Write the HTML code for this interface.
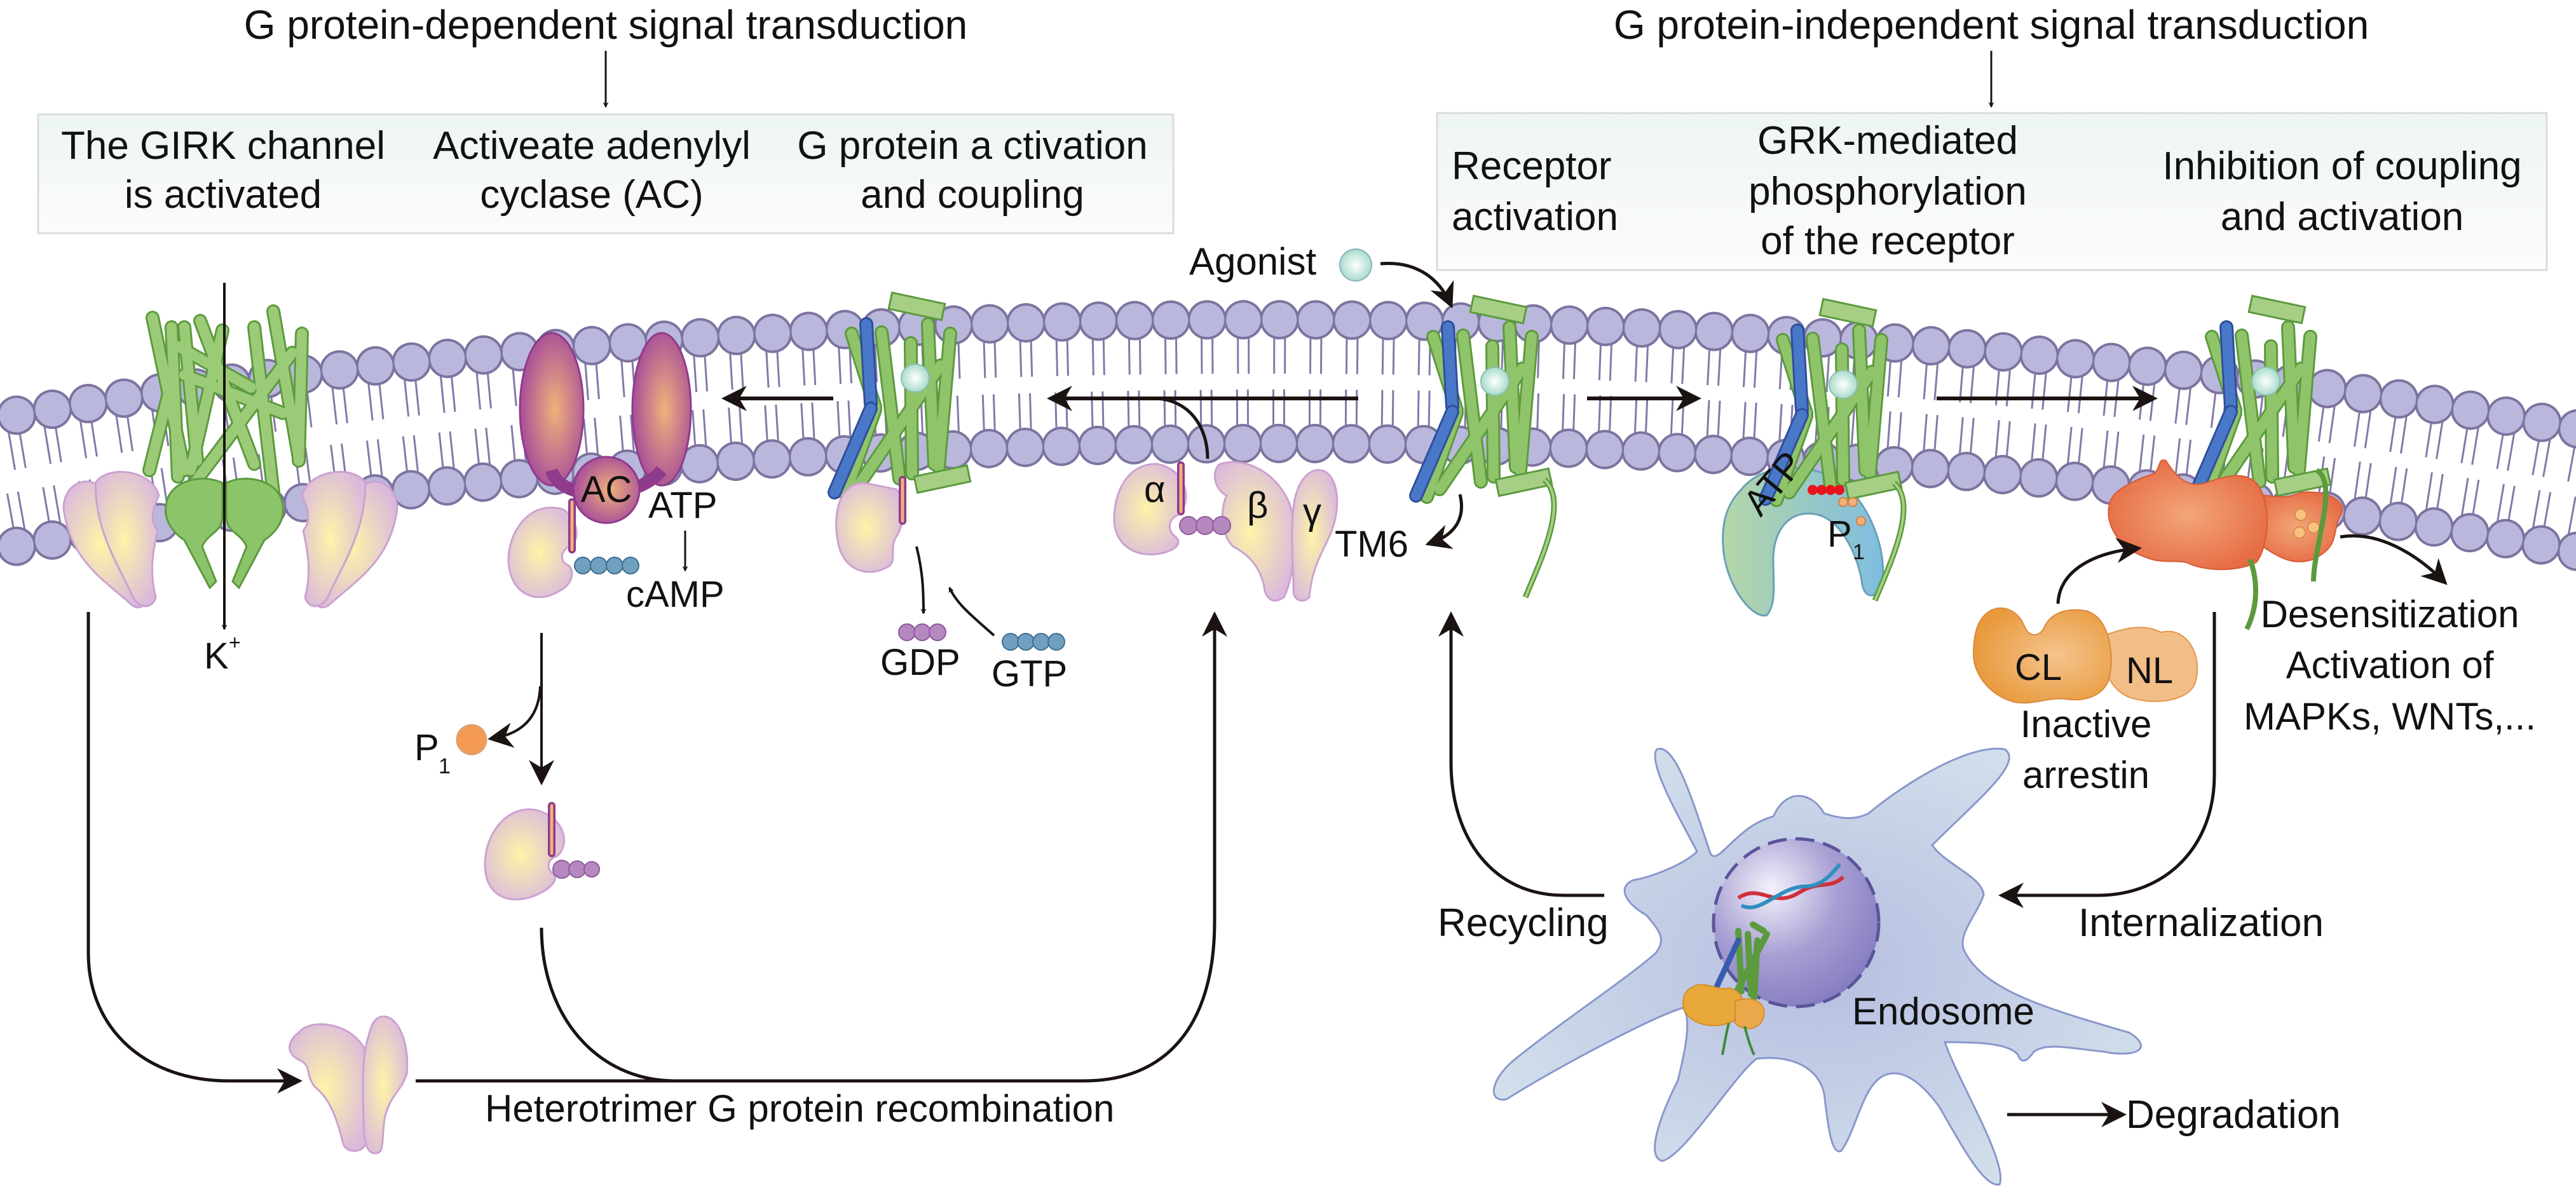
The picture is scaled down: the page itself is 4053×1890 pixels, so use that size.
<!DOCTYPE html>
<html><head><meta charset="utf-8">
<style>
html,body{margin:0;padding:0;background:#fff;}
svg{display:block;}
text{font-family:"Liberation Sans",Arial,sans-serif;fill:#111;}
</style></head>
<body>
<svg width="4053" height="1890" viewBox="0 0 4053 1890" xmlns="http://www.w3.org/2000/svg">
<defs>
  <marker id="ah" viewBox="0 0 20 20" refX="16" refY="10" markerWidth="9" markerHeight="9" orient="auto" markerUnits="userSpaceOnUse">
    <path d="M0,0 L20,10 L0,20 L6,10 Z" fill="#1a1311"/>
  </marker>
  <marker id="ahb" viewBox="0 0 20 20" refX="16" refY="10" markerWidth="40" markerHeight="40" orient="auto" markerUnits="userSpaceOnUse">
    <path d="M0,0 L20,10 L0,20 L6,10 Z" fill="#1a1311"/>
  </marker>
  <linearGradient id="boxg" x1="0" y1="0" x2="0" y2="1">
    <stop offset="0" stop-color="#edf5f2"/><stop offset="1" stop-color="#fcfcfa"/>
  </linearGradient>
  <radialGradient id="gp" cx="0.45" cy="0.5" r="0.6">
    <stop offset="0" stop-color="#fdf4a8"/><stop offset="1" stop-color="#dab9dc"/>
  </radialGradient>
  <radialGradient id="acg" cx="0.55" cy="0.5" r="0.6">
    <stop offset="0" stop-color="#f0b27a"/><stop offset="1" stop-color="#a0449c"/>
  </radialGradient>
  <radialGradient id="ago" cx="0.5" cy="0.5" r="0.5">
    <stop offset="0" stop-color="#ffffff"/><stop offset="1" stop-color="#a8dccb"/>
  </radialGradient>
  <radialGradient id="org" cx="0.5" cy="0.5" r="0.6">
    <stop offset="0" stop-color="#f2a67a"/><stop offset="1" stop-color="#e5673f"/>
  </radialGradient>
  <radialGradient id="arr" cx="0.6" cy="0.5" r="0.6">
    <stop offset="0" stop-color="#f5c48e"/><stop offset="1" stop-color="#e89a3c"/>
  </radialGradient>
  <linearGradient id="grk" x1="0" y1="0" x2="1" y2="0">
    <stop offset="0" stop-color="#b4d6a8"/><stop offset="1" stop-color="#7fbde0"/>
  </linearGradient>
  <radialGradient id="cellg" cx="0.5" cy="0.5" r="0.6">
    <stop offset="0" stop-color="#b6bde0"/><stop offset="1" stop-color="#d3e2ec"/>
  </radialGradient>
  <radialGradient id="nuc" cx="0.35" cy="0.3" r="0.8">
    <stop offset="0" stop-color="#f4f2fb"/><stop offset="0.5" stop-color="#a79fd3"/><stop offset="1" stop-color="#8078bd"/>
  </radialGradient>
  <g id="rcpt">
    <g stroke-linecap="round">
      <g stroke="#5c9a3e" stroke-width="22">
        <line x1="-75" y1="-110" x2="-38" y2="5"/>
        <line x1="-28" y1="-112" x2="0" y2="118"/>
        <line x1="18" y1="-95" x2="20" y2="110"/>
        <line x1="45" y1="-125" x2="55" y2="95"/>
        <line x1="80" y1="-110" x2="62" y2="100"/>
        <line x1="65" y1="-60" x2="-65" y2="130"/>
        <line x1="-38" y1="10" x2="-85" y2="142"/>
      </g>
      <g stroke="#90c46b" stroke-width="16">
        <line x1="-75" y1="-110" x2="-38" y2="5"/>
        <line x1="-28" y1="-112" x2="0" y2="118"/>
        <line x1="18" y1="-95" x2="20" y2="110"/>
        <line x1="45" y1="-125" x2="55" y2="95"/>
        <line x1="80" y1="-110" x2="62" y2="100"/>
        <line x1="65" y1="-60" x2="-65" y2="130"/>
        <line x1="-38" y1="10" x2="-85" y2="142"/>
      </g>
      <line x1="-52" y1="-125" x2="-45" y2="0" stroke="#2f4f9a" stroke-width="22"/>
      <line x1="-52" y1="-125" x2="-45" y2="0" stroke="#4a78c8" stroke-width="16"/>
      <line x1="-45" y1="8" x2="-102" y2="140" stroke="#2f4f9a" stroke-width="22"/>
      <line x1="-45" y1="8" x2="-102" y2="140" stroke="#4a78c8" stroke-width="16"/>
    </g>
    <g stroke="#5c9a3e" stroke-width="3" fill="#a6cf85">
      <rect x="-15" y="-166" width="85" height="26" transform="rotate(12 27 -153)"/>
      <rect x="25" y="106" width="85" height="26" transform="rotate(-12 67 119)"/>
    </g>
  </g>
  <g id="tail">
    <path d="M100,115 C140,150 90,250 70,300" fill="none" stroke="#5c9a3e" stroke-width="9"/>
    <path d="M100,115 C140,150 90,250 70,300" fill="none" stroke="#a6cf85" stroke-width="4"/>
  </g>
</defs>

<text x="953" y="61" font-size="64" text-anchor="middle">G protein-dependent signal transduction</text>
<text x="3133" y="61" font-size="64" text-anchor="middle">G protein-independent signal transduction</text>
<line x1="953" y1="80" x2="953" y2="168" stroke="#1a1311" stroke-width="3" marker-end="url(#ah)"/>
<line x1="3133" y1="80" x2="3133" y2="168" stroke="#1a1311" stroke-width="3" marker-end="url(#ah)"/>

<rect x="60" y="180" width="1786" height="187" fill="url(#boxg)" stroke="#d9ddd9" stroke-width="3"/>
<rect x="2261" y="178" width="1746" height="247" fill="url(#boxg)" stroke="#d9ddd9" stroke-width="3"/>
<g font-size="62" text-anchor="middle">
  <text x="351" y="250">The GIRK channel</text><text x="351" y="327">is activated</text>
  <text x="931" y="250">Activeate adenylyl</text><text x="931" y="327">cyclase (AC)</text>
  <text x="1530" y="250">G protein a ctivation</text><text x="1530" y="327">and coupling</text>
  <text x="2970" y="242">GRK-mediated</text><text x="2970" y="322">phosphorylation</text><text x="2970" y="400">of the receptor</text>
  <text x="3685" y="282">Inhibition of coupling</text><text x="3685" y="362">and activation</text>
</g>
<g font-size="62"><text x="2284" y="282">Receptor</text><text x="2284" y="362">activation</text></g>

<g fill="none" stroke-linecap="butt">
  <path d="M-30,713 C1200,497 2850,497 4083,730" stroke="#8279a8" stroke-width="70" stroke-dasharray="3 14 3 37" stroke-dashoffset="10"/>
  <path d="M-30,820 C1200,590 2850,590 4083,823" stroke="#8279a8" stroke-width="70" stroke-dasharray="3 14 3 37" stroke-dashoffset="10"/>
  <path d="M-30,766 C1200,543 2850,543 4083,776" stroke="#ffffff" stroke-width="6"/>
</g>
<g fill="none" stroke-linecap="round">
  <path d="M-30,663 C1200,447 2850,447 4083,680" stroke="#7d739f" stroke-width="62" stroke-dasharray="0 57"/>
  <path d="M-30,663 C1200,447 2850,447 4083,680" stroke="#b9b8dc" stroke-width="54" stroke-dasharray="0 57"/>
  <path d="M-30,870 C1200,640 2850,640 4083,873" stroke="#7d739f" stroke-width="62" stroke-dasharray="0 57"/>
  <path d="M-30,870 C1200,640 2850,640 4083,873" stroke="#b9b8dc" stroke-width="54" stroke-dasharray="0 57"/>
</g>

<g stroke-linecap="round">
  <g stroke="#5c9a3e" stroke-width="22">
    <line x1="240" y1="500" x2="290" y2="740"/><line x1="270" y1="515" x2="280" y2="750"/><line x1="290" y1="515" x2="310" y2="725"/>
    <line x1="315" y1="505" x2="400" y2="730"/><line x1="280" y1="545" x2="395" y2="610"/><line x1="290" y1="590" x2="445" y2="650"/>
    <line x1="400" y1="515" x2="430" y2="775"/><line x1="430" y1="490" x2="470" y2="720"/><line x1="475" y1="525" x2="470" y2="725"/>
    <line x1="460" y1="555" x2="295" y2="775"/><line x1="350" y1="520" x2="300" y2="740"/><line x1="235" y1="740" x2="265" y2="620"/>
  </g>
  <g stroke="#9ccb78" stroke-width="16">
    <line x1="240" y1="500" x2="290" y2="740"/><line x1="270" y1="515" x2="280" y2="750"/><line x1="290" y1="515" x2="310" y2="725"/>
    <line x1="315" y1="505" x2="400" y2="730"/><line x1="280" y1="545" x2="395" y2="610"/><line x1="290" y1="590" x2="445" y2="650"/>
    <line x1="400" y1="515" x2="430" y2="775"/><line x1="430" y1="490" x2="470" y2="720"/><line x1="475" y1="525" x2="470" y2="725"/>
    <line x1="460" y1="555" x2="295" y2="775"/><line x1="350" y1="520" x2="300" y2="740"/><line x1="235" y1="740" x2="265" y2="620"/>
  </g>
</g>
<g fill="#8cc46a" stroke="#5c9a3e" stroke-width="3">
  <path d="M350,760 C320,745 270,755 262,790 C255,820 275,840 290,850 L330,925 L340,915 L318,860 C330,835 350,840 350,810 Z"/>
  <path d="M356,760 C386,745 436,755 444,790 C451,820 431,840 416,850 L376,925 L366,915 L388,860 C376,835 356,840 356,810 Z"/>
</g>
<g fill="url(#gp)" stroke="#cba2d0" stroke-width="3">
  <path d="M100,800 C100,760 140,745 160,770 C190,800 200,860 230,920 C240,950 220,965 205,950 C160,910 110,880 100,800 Z"/>
  <path d="M150,760 C170,730 240,740 250,780 C240,800 235,820 248,835 C240,870 235,900 245,940 C240,960 215,960 205,930 C180,880 150,830 150,760 Z"/>
  <path d="M625,800 C625,760 585,745 565,770 C535,800 525,860 495,920 C485,950 505,965 520,950 C565,910 615,880 625,800 Z"/>
  <path d="M575,760 C555,730 485,740 475,780 C485,800 490,820 477,835 C485,870 490,900 480,940 C485,960 510,960 520,930 C545,880 575,830 575,760 Z"/>
</g>
<line x1="353" y1="445" x2="353" y2="990" stroke="#1a1311" stroke-width="4" marker-end="url(#ah)"/>
<text x="321" y="1052" font-size="58">K</text><text x="360" y="1022" font-size="32">+</text>

<ellipse cx="868" cy="644" rx="50" ry="120" fill="url(#acg)" stroke="#8e3b8c" stroke-width="3"/>
<ellipse cx="1041" cy="644" rx="46" ry="120" fill="url(#acg)" stroke="#8e3b8c" stroke-width="3"/>
<path d="M868,740 C880,790 1000,790 1041,740" fill="none" stroke="#8e3b8c" stroke-width="20"/>
<circle cx="954" cy="771" r="52" fill="url(#acg)" stroke="#8e3b8c" stroke-width="3"/>
<text x="954" y="790" font-size="58" text-anchor="middle">AC</text>
<text x="1020" y="815" font-size="58">ATP</text>
<line x1="1078" y1="835" x2="1078" y2="898" stroke="#1a1311" stroke-width="3" marker-end="url(#ah)"/>
<text x="985" y="955" font-size="58">cAMP</text>
<path d="M880,800 C830,790 800,840 800,880 C800,930 840,955 880,930 C900,920 905,900 895,890 C880,885 880,865 900,858 C915,845 905,805 880,800 Z" fill="url(#gp)" stroke="#cba2d0" stroke-width="3"/>
<line x1="900" y1="790" x2="900" y2="865" stroke="#8e3b8c" stroke-width="12" stroke-linecap="round"/>
<line x1="900" y1="790" x2="900" y2="865" stroke="#f0b27a" stroke-width="5" stroke-linecap="round"/>
<g fill="#6fa0c0" stroke="#3e6f8f" stroke-width="2"><circle cx="917" cy="890" r="13"/><circle cx="942" cy="890" r="13"/><circle cx="967" cy="890" r="13"/><circle cx="992" cy="890" r="13"/></g>

<use href="#rcpt" x="1415" y="635"/>
<circle cx="1440" cy="595" r="22" fill="url(#ago)" stroke="#8bbfb0" stroke-width="2"/>
<path d="M1360,760 C1315,760 1310,820 1320,860 C1330,900 1370,910 1400,890 C1410,880 1400,860 1410,845 C1420,830 1430,790 1410,770 Z" fill="url(#gp)" stroke="#cba2d0" stroke-width="3"/>
<line x1="1420" y1="755" x2="1420" y2="820" stroke="#8e3b8c" stroke-width="12" stroke-linecap="round"/>
<line x1="1420" y1="755" x2="1420" y2="820" stroke="#f0b27a" stroke-width="5" stroke-linecap="round"/>
<path d="M1442,860 C1452,900 1453,930 1453,965" fill="none" stroke="#1a1311" stroke-width="4" marker-end="url(#ah)"/>
<path d="M1564,1000 C1530,970 1505,950 1494,925" fill="none" stroke="#1a1311" stroke-width="4" marker-end="url(#ah)"/>
<g fill="#b588c0" stroke="#8e5b9c" stroke-width="2"><circle cx="1427" cy="995" r="13"/><circle cx="1451" cy="995" r="13"/><circle cx="1475" cy="995" r="13"/></g>
<g fill="#6fa0c0" stroke="#3e6f8f" stroke-width="2"><circle cx="1590" cy="1010" r="13"/><circle cx="1614" cy="1010" r="13"/><circle cx="1638" cy="1010" r="13"/><circle cx="1662" cy="1010" r="13"/></g>
<text x="1385" y="1062" font-size="58">GDP</text>
<text x="1560" y="1080" font-size="58">GTP</text>

<path d="M1820,730 C1770,730 1752,780 1753,820 C1755,860 1790,880 1830,870 C1850,865 1860,855 1850,845 C1835,835 1838,815 1855,810 C1875,790 1870,740 1820,730 Z" fill="url(#gp)" stroke="#cba2d0" stroke-width="3"/>
<path d="M1920,730 C1970,715 2030,760 2035,820 C2040,880 2030,920 2020,940 C2005,950 1995,945 1990,930 C1985,890 1960,870 1940,860 C1920,840 1920,800 1930,780 C1910,770 1905,740 1920,730 Z" fill="url(#gp)" stroke="#cba2d0" stroke-width="3"/>
<path d="M2070,740 C2100,735 2110,780 2100,820 C2090,860 2065,880 2060,940 C2050,950 2035,945 2035,930 C2035,880 2030,850 2035,800 C2038,770 2050,745 2070,740 Z" fill="url(#gp)" stroke="#cba2d0" stroke-width="3"/>
<line x1="1858" y1="732" x2="1858" y2="805" stroke="#8e3b8c" stroke-width="12" stroke-linecap="round"/>
<line x1="1858" y1="732" x2="1858" y2="805" stroke="#f0b27a" stroke-width="5" stroke-linecap="round"/>
<g fill="#b588c0" stroke="#8e5b9c" stroke-width="2"><circle cx="1870" cy="827" r="14"/><circle cx="1896" cy="827" r="14"/><circle cx="1922" cy="827" r="14"/></g>
<text x="1800" y="790" font-size="58">α</text>
<text x="1962" y="815" font-size="58">β</text>
<text x="2050" y="825" font-size="58">γ</text>
<text x="2100" y="876" font-size="58">TM6</text>

<line x1="1311" y1="627" x2="1143" y2="627" stroke="#1a1311" stroke-width="6" marker-end="url(#ahb)"/>
<line x1="2137" y1="627" x2="1655" y2="627" stroke="#1a1311" stroke-width="6" marker-end="url(#ahb)"/>
<path d="M1900,722 C1900,670 1870,630 1820,627" fill="none" stroke="#1a1311" stroke-width="5"/>

<text x="1871" y="432" font-size="60">Agonist</text>
<circle cx="2133" cy="417" r="25" fill="url(#ago)" stroke="#8bb0c0" stroke-width="2"/>
<path d="M2172,415 C2230,410 2265,440 2282,478" fill="none" stroke="#1a1311" stroke-width="5" marker-end="url(#ahb)"/>

<use href="#rcpt" x="2330" y="640"/>
<use href="#tail" x="2330" y="640"/>
<circle cx="2352" cy="600" r="22" fill="url(#ago)" stroke="#8bbfb0" stroke-width="2"/>
<path d="M2297,778 C2305,810 2295,840 2250,855" fill="none" stroke="#1a1311" stroke-width="5" marker-end="url(#ahb)"/>

<line x1="2497" y1="627" x2="2669" y2="627" stroke="#1a1311" stroke-width="6" marker-end="url(#ahb)"/>
<line x1="3047" y1="627" x2="3387" y2="627" stroke="#1a1311" stroke-width="6" marker-end="url(#ahb)"/>

<path d="M2740,770 C2780,720 2870,730 2910,770 C2950,810 2970,880 2960,920 C2955,940 2935,945 2930,920 C2925,880 2900,820 2860,810 C2820,800 2790,830 2790,880 C2790,920 2795,950 2780,968 C2760,975 2720,930 2712,870 C2706,820 2720,790 2740,770 Z" fill="url(#grk)" stroke="#6aa0b8" stroke-width="3"/>
<use href="#rcpt" x="2880" y="645"/>
<use href="#tail" x="2880" y="645"/>
<circle cx="2900" cy="605" r="22" fill="url(#ago)" stroke="#8bbfb0" stroke-width="2"/>
<text x="0" y="0" font-size="58" transform="translate(2770,815) rotate(-50)">ATP</text>
<g fill="#e8141a"><circle cx="2852" cy="771" r="8"/><circle cx="2866" cy="771" r="8"/><circle cx="2880" cy="771" r="8"/><circle cx="2894" cy="771" r="8"/></g>
<g fill="#f2b07a" stroke="#d08040" stroke-width="2"><circle cx="2900" cy="790" r="7"/><circle cx="2915" cy="790" r="7"/><circle cx="2928" cy="820" r="7"/></g>
<text x="2875" y="860" font-size="58">P</text><text x="2915" y="880" font-size="34">1</text>

<use href="#rcpt" x="3555" y="640"/>
<circle cx="3565" cy="600" r="22" fill="url(#ago)" stroke="#8bbfb0" stroke-width="2"/>
<path d="M3540,780 C3565,775 3590,790 3620,775 C3660,770 3700,790 3680,815 C3670,840 3680,860 3640,880 C3610,890 3590,880 3560,860 Z" fill="url(#org)" stroke="#d75a35" stroke-width="2"/>
<path d="M3390,745 C3400,735 3395,720 3408,725 C3420,745 3440,770 3470,760 C3500,750 3530,740 3550,760 C3575,790 3570,860 3550,885 C3520,900 3470,900 3440,885 C3410,880 3400,890 3360,870 C3330,855 3310,820 3320,790 C3325,770 3360,755 3390,745 Z" fill="url(#org)" stroke="#d75a35" stroke-width="2"/>
<g fill="#f7c27e" stroke="#e08a4a" stroke-width="2"><circle cx="3620" cy="810" r="9"/><circle cx="3618" cy="838" r="9"/><circle cx="3640" cy="830" r="9"/></g>
<path d="M3540,880 C3555,920 3550,960 3535,990" fill="none" stroke="#5c9a3e" stroke-width="8"/>
<path d="M3645,740 C3680,760 3640,860 3640,915" fill="none" stroke="#5c9a3e" stroke-width="8"/>
<path d="M3238,950 C3240,900 3290,870 3362,863" fill="none" stroke="#1a1311" stroke-width="5" marker-end="url(#ahb)"/>
<path d="M3682,845 C3740,835 3800,870 3845,915" fill="none" stroke="#1a1311" stroke-width="5" marker-end="url(#ahb)"/>

<path d="M3310,1000 C3340,990 3370,980 3400,995 C3440,985 3465,1030 3455,1070 C3450,1100 3400,1110 3360,1100 C3330,1095 3300,1060 3310,1000 Z" fill="#f2be88" stroke="#e2964a" stroke-width="2"/>
<path d="M3130,962 C3150,950 3175,960 3185,985 C3190,1000 3205,1005 3215,990 C3225,965 3250,955 3285,962 C3320,975 3325,1030 3320,1060 C3315,1095 3280,1105 3250,1100 C3220,1097 3200,1110 3170,1105 C3130,1095 3105,1060 3105,1030 C3105,1000 3110,975 3130,962 Z" fill="url(#arr)" stroke="#d88a3a" stroke-width="2"/>
<text x="3170" y="1070" font-size="58">CL</text>
<text x="3345" y="1075" font-size="58">NL</text>
<text x="3282" y="1160" font-size="60" text-anchor="middle">Inactive</text>
<text x="3282" y="1240" font-size="60" text-anchor="middle">arrestin</text>
<g font-size="60" text-anchor="middle">
  <text x="3760" y="987">Desensitization</text>
  <text x="3760" y="1067">Activation of</text>
  <text x="3760" y="1148">MAPKs, WNTs,...</text>
</g>

<path d="M2607,1179 C2635,1170 2660,1250 2690,1340 C2700,1370 2730,1300 2790,1285 C2810,1240 2850,1245 2870,1280 C2900,1290 2920,1290 2940,1280 C3000,1230 3100,1170 3154,1179 C3185,1200 3110,1260 3040,1330 C3060,1360 3120,1380 3121,1409 C3110,1440 3080,1470 3090,1495 C3120,1560 3230,1590 3350,1625 C3390,1650 3360,1665 3310,1655 C3260,1650 3220,1640 3200,1655 C3190,1670 3180,1675 3175,1660 C3160,1640 3100,1640 3060,1640 C3080,1700 3160,1830 3146,1864 C3120,1870 3080,1790 3050,1740 C3020,1700 2990,1680 2963,1693 C2930,1710 2920,1780 2897,1811 C2880,1820 2875,1760 2870,1720 C2860,1680 2820,1660 2764,1666 C2730,1690 2650,1820 2615,1827 C2590,1820 2610,1760 2640,1700 C2655,1640 2660,1600 2648,1586 C2600,1600 2450,1680 2370,1730 C2340,1735 2345,1700 2380,1670 C2440,1620 2560,1540 2605,1500 C2620,1480 2615,1468 2590,1440 C2555,1420 2545,1395 2570,1385 C2600,1380 2650,1360 2670,1340 C2650,1300 2590,1200 2607,1179 Z" fill="url(#cellg)" stroke="#8a97cc" stroke-width="3"/>
<ellipse cx="2826" cy="1452" rx="130" ry="132" fill="url(#nuc)" stroke="#5a559a" stroke-width="5" stroke-dasharray="30 14"/>
<path d="M2735,1413 C2770,1390 2790,1430 2830,1405 C2860,1385 2880,1400 2900,1380" fill="none" stroke="#d0303a" stroke-width="6"/>
<path d="M2740,1425 C2770,1440 2800,1395 2840,1395 C2870,1395 2885,1370 2895,1360" fill="none" stroke="#2f8fc0" stroke-width="6"/>
<g stroke="#5c9a3e" stroke-width="10" stroke-linecap="round">
  <line x1="2735" y1="1465" x2="2740" y2="1560"/><line x1="2750" y1="1470" x2="2755" y2="1565"/><line x1="2765" y1="1480" x2="2760" y2="1570"/><line x1="2780" y1="1470" x2="2730" y2="1565"/><line x1="2758" y1="1455" x2="2775" y2="1465"/>
</g>
<line x1="2735" y1="1480" x2="2700" y2="1555" stroke="#3a5cb0" stroke-width="9" stroke-linecap="round"/>
<path d="M2660,1555 C2680,1540 2700,1560 2720,1555 C2750,1560 2750,1600 2720,1610 C2690,1620 2660,1610 2650,1590 C2645,1575 2650,1560 2660,1555 Z" fill="#e8a83a" stroke="#d0902a" stroke-width="2"/>
<path d="M2730,1575 C2760,1565 2780,1580 2775,1600 C2770,1620 2745,1625 2730,1610 Z" fill="#eaa84a" stroke="#d0902a" stroke-width="2"/>
<path d="M2720,1610 C2715,1630 2712,1650 2710,1660 M2745,1615 C2750,1635 2755,1650 2760,1660" fill="none" stroke="#3f8a3a" stroke-width="4"/>
<text x="2914" y="1612" font-size="60">Endosome</text>

<path d="M139,963 L139,1500 C139,1620 230,1701 360,1701 L468,1701" fill="none" stroke="#1a1311" stroke-width="5" marker-end="url(#ahb)"/>
<g fill="url(#gp)" stroke="#cba2d0" stroke-width="3">
  <path d="M470,1625 C490,1600 560,1610 578,1660 C585,1700 580,1760 575,1800 C570,1815 545,1815 540,1800 C530,1760 520,1730 495,1710 C480,1690 490,1680 475,1670 C450,1660 450,1640 470,1625 Z"/>
  <path d="M600,1600 C625,1595 645,1640 640,1690 C630,1720 615,1720 605,1760 C600,1800 605,1815 590,1815 C575,1815 572,1790 572,1760 C570,1700 570,1660 580,1630 C585,1610 590,1602 600,1600 Z"/>
</g>
<path d="M654,1701 L1706,1701 C1830,1701 1911,1620 1911,1450 L1911,970" fill="none" stroke="#1a1311" stroke-width="5" marker-end="url(#ahb)"/>
<path d="M852,1460 C852,1600 940,1700 1060,1701" fill="none" stroke="#1a1311" stroke-width="5"/>
<line x1="852" y1="996" x2="852" y2="1228" stroke="#1a1311" stroke-width="4" marker-end="url(#ahb)"/>
<path d="M850,1080 C848,1130 820,1155 775,1162" fill="none" stroke="#1a1311" stroke-width="4" marker-end="url(#ahb)"/>
<circle cx="742" cy="1164" r="23" fill="#f49a55" stroke="#e0a070" stroke-width="3"/>
<text x="652" y="1196" font-size="58">P</text><text x="690" y="1217" font-size="34">1</text>
<path d="M845,1275 C800,1265 763,1310 763,1360 C763,1410 800,1425 840,1410 C865,1400 880,1385 870,1375 C860,1368 860,1352 875,1348 C895,1335 895,1290 845,1275 Z" fill="url(#gp)" stroke="#cba2d0" stroke-width="3"/>
<line x1="868" y1="1268" x2="868" y2="1343" stroke="#8e3b8c" stroke-width="12" stroke-linecap="round"/>
<line x1="868" y1="1268" x2="868" y2="1343" stroke="#f0b27a" stroke-width="5" stroke-linecap="round"/>
<g fill="#b588c0" stroke="#8e5b9c" stroke-width="2"><circle cx="884" cy="1368" r="14"/><circle cx="908" cy="1368" r="13"/><circle cx="931" cy="1368" r="12"/></g>
<text x="763" y="1765" font-size="60">Heterotrimer G protein recombination</text>

<path d="M2524,1409 L2460,1409 C2350,1409 2283,1320 2283,1200 L2283,970" fill="none" stroke="#1a1311" stroke-width="5" marker-end="url(#ahb)"/>
<path d="M3484,963 L3484,1220 C3484,1330 3410,1409 3300,1409 L3152,1409" fill="none" stroke="#1a1311" stroke-width="5" marker-end="url(#ahb)"/>
<text x="2262" y="1473" font-size="62">Recycling</text>
<text x="3270" y="1473" font-size="62">Internalization</text>
<line x1="3158" y1="1754" x2="3338" y2="1754" stroke="#1a1311" stroke-width="5" marker-end="url(#ahb)"/>
<text x="3345" y="1775" font-size="62">Degradation</text>
</svg>
</body></html>
